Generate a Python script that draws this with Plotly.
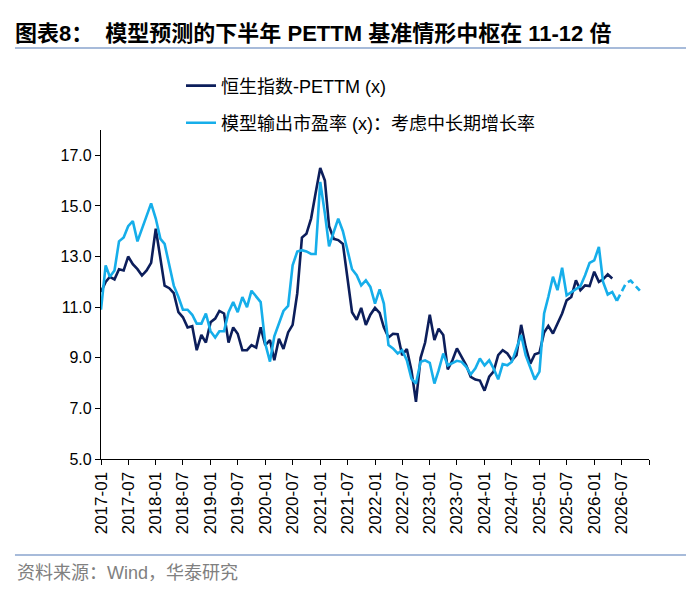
import pandas as pd
import plotly.graph_objects as go

# monthly series starting 2017-01
start_month = "2017-01-01"

hsi_pettm = [
    11.6, 12.0, 12.2, 12.1, 12.5, 12.45, 13.0, 12.7, 12.5, 12.25, 12.45, 12.75,
    14.1, 12.85, 11.85, 11.75, 11.55, 10.8, 10.6, 10.2, 10.25, 9.3, 9.9, 9.6,
    10.4, 10.55, 10.85, 10.75, 9.6, 10.2, 9.95, 9.3, 9.3, 9.5, 9.4, 10.2,
    9.5, 9.7, 8.9, 9.75, 9.35, 10.0, 10.3, 11.55, 13.75, 13.9, 14.5, 15.5,
    16.5, 16.0, 14.2, 13.7, 13.65, 13.5, 12.2, 10.8, 10.5, 10.97, 10.3, 10.7,
    10.97, 10.77, 10.2, 9.8, 9.95, 9.93, 9.1, 9.35, 8.5, 7.26, 9.0, 9.6,
    10.7, 9.7, 10.15, 9.9, 8.54, 8.9, 9.37, 9.04, 8.7, 8.25, 8.14, 8.1,
    7.7, 8.25, 8.45, 9.1, 9.3, 9.17, 8.9, 9.1, 10.3, 9.43, 8.77, 9.14,
    9.2, 10.0, 10.26, 9.96, 10.38, 10.75, 11.27, 11.4, 12.06, 11.67, 11.86, 11.83,
    12.4, 12.0, 12.1, 12.3, 12.13,
]

model_pe = [
    10.9, 12.65, 12.2, 12.45, 13.6, 13.75, 14.2, 14.4, 13.6, 14.1, 14.65, 15.1,
    14.5, 13.7, 13.5, 12.7, 11.85, 11.4, 10.9, 10.9, 10.7, 10.35, 10.35, 10.75,
    10.05, 9.8, 10.05, 10.05, 10.8, 11.2, 10.8, 11.4, 11.0, 11.65, 11.4, 11.2,
    9.55, 8.85, 9.85, 10.4, 10.85, 11.05, 12.65, 13.2, 13.25, 13.2, 13.1, 13.1,
    15.95, 14.7, 13.4, 13.97, 14.5, 14.0, 13.25, 12.5, 12.26, 11.86, 12.06, 11.8,
    11.14, 11.7, 11.14, 9.5, 9.37, 9.17, 9.3, 8.9, 8.18, 7.98, 8.84, 8.9,
    8.8, 7.98, 8.5, 9.17, 8.7, 8.8, 8.88, 8.84, 8.64, 8.34, 8.58, 8.97,
    8.7, 8.9, 8.58, 8.15, 8.75, 8.7, 8.84, 9.37, 9.9, 9.1, 8.64, 8.14,
    8.45, 10.75, 11.4, 12.2, 11.67, 12.56, 11.47, 11.6, 11.7, 11.83, 12.26, 12.75,
    12.85, 13.38, 12.0, 11.5, 11.6, 11.25,
]

# forecast part (dashed), continues from the last model point
model_pe_forecast = [11.25, 11.6, 11.95, 12.05, 11.85, 11.65]

tick_labels = ["2017-01", "2017-07", "2018-01", "2018-07", "2019-01", "2019-07",
               "2020-01", "2020-07", "2021-01", "2021-07", "2022-01", "2022-07",
               "2023-01", "2023-07", "2024-01", "2024-07", "2025-01", "2025-07",
               "2026-01", "2026-07", ""]

months_all = pd.date_range(start_month, periods=len(model_pe) + len(model_pe_forecast), freq="MS")
x_hsi = months_all[:len(hsi_pettm)]
x_model = months_all[:len(model_pe)]
x_fc = months_all[len(model_pe) - 1:len(model_pe) - 1 + len(model_pe_forecast)]
tick_vals = pd.date_range(start_month, periods=len(tick_labels), freq="6MS")

DARK = "#0C1E5B"
LIGHT = "#16AEEA"
FONT = "Liberation Sans, Arial, Noto Sans CJK SC, sans-serif"

fig = go.Figure()
fig.add_trace(go.Scatter(
    x=x_hsi, y=hsi_pettm, mode="lines", name="恒生指数-PETTM (x)",
    line=dict(color=DARK, width=2.6), legend="legend",
))
fig.add_trace(go.Scatter(
    x=x_model, y=model_pe, mode="lines", name="模型输出市盈率 (x)：考虑中长期增长率",
    line=dict(color=LIGHT, width=2.6), legend="legend2",
))
fig.add_trace(go.Scatter(
    x=x_fc, y=model_pe_forecast, mode="lines", showlegend=False,
    line=dict(color=LIGHT, width=2.6, dash="7px,4px"),
))

# page body has an 8px margin, so the figure is a bit smaller than the window
fig.update_layout(
    width=692, height=597,
    paper_bgcolor="white", plot_bgcolor="white",
    margin=dict(l=93, r=51, t=122, b=146),
    font=dict(family=FONT, size=16, color="black"),
    title=dict(
        text="<b>图表8：  模型预测的下半年 PETTM 基准情形中枢在 11-12 倍</b>",
        x=0.010, xanchor="left", y=0.958, yanchor="middle",
        font=dict(size=22, color="black"),
    ),
    legend=dict(x=0.146, y=1.134, xanchor="left", yanchor="middle",
                font=dict(size=18), bgcolor="rgba(0,0,0,0)"),
    legend2=dict(x=0.146, y=1.021, xanchor="left", yanchor="middle",
                 font=dict(size=18), bgcolor="rgba(0,0,0,0)"),
    xaxis=dict(
        type="date", range=[tick_vals[0], tick_vals[-1]],
        tickmode="array", tickvals=tick_vals, ticktext=tick_labels,
        tickangle=-90, ticks="outside", ticklen=5, tickcolor="black",
        showline=True, linecolor="black", linewidth=1.2, automargin=False,
        showgrid=False, zeroline=False, tickfont=dict(size=17),
    ),
    yaxis=dict(
        range=[5, 18], tickvals=[5, 7, 9, 11, 13, 15, 17], tickformat=".1f",
        ticks="outside", ticklen=5, tickcolor="black", automargin=False,
        showline=True, linecolor="black", linewidth=1.2,
        showgrid=False, zeroline=False, tickfont=dict(size=16),
    ),
)

# header / footer rules
for yy in (1.249, -0.292):
    fig.add_shape(type="line", xref="paper", yref="paper",
                  x0=-0.157, x1=1.0675, y0=yy, y1=yy,
                  line=dict(color="#A7BBDA", width=2))

fig.add_annotation(
    text="资料来源：Wind，华泰研究", xref="paper", yref="paper",
    x=-0.157, y=-0.347, xanchor="left", yanchor="middle", showarrow=False,
    font=dict(size=18, color="#808080"),
)

fig.write_html("out.html")
